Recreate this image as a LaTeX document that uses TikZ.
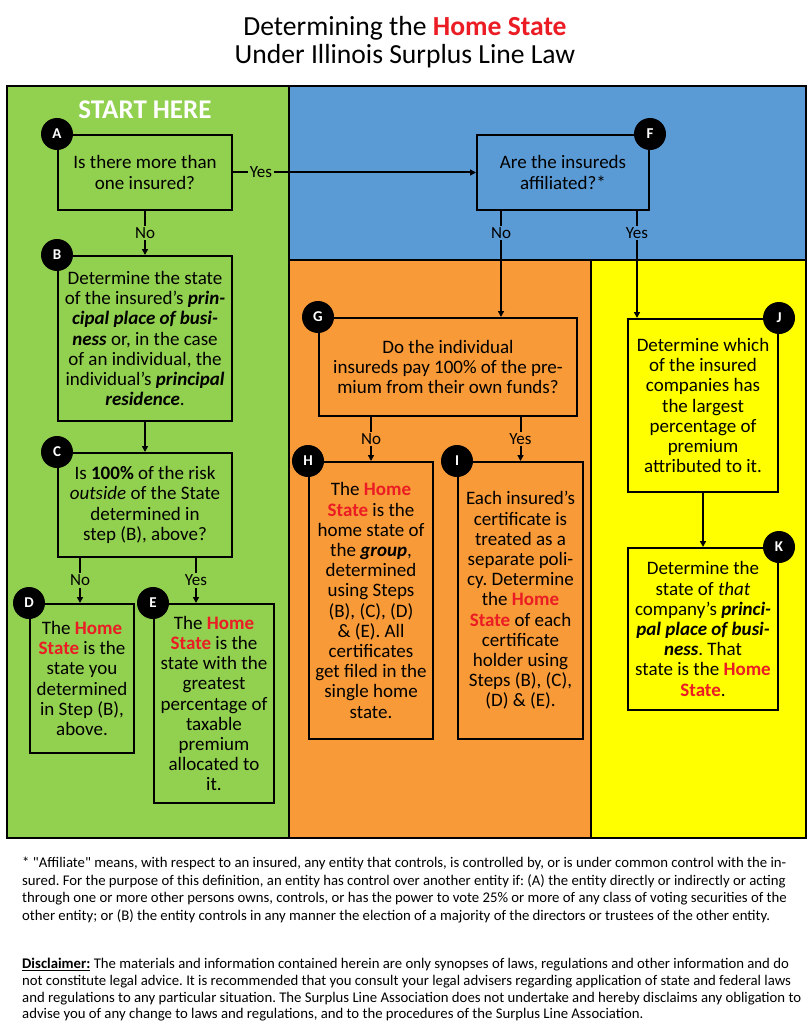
\documentclass[tikz,border=0pt]{standalone}
\usepackage{fontspec}
\setmainfont{Carlito}
\newfontfamily\footfont{Carlito}
\usetikzlibrary{arrows.meta,calc}
\definecolor{pgreen}{RGB}{146,208,80}
\definecolor{pblue}{RGB}{91,155,213}
\definecolor{porange}{RGB}{248,154,56}
\definecolor{pyellow}{RGB}{255,255,0}
\definecolor{hred}{RGB}{235,28,36}
\newcommand{\redbf}[1]{\textcolor{hred}{\textbf{#1}}}
\newcommand{\bi}[1]{\textbf{\textit{#1}}}
\frenchspacing
\begin{document}
\begin{tikzpicture}[x=1pt,y=-1pt,
  panel/.style={draw=black,line width=2pt},
  box/.style={draw=black,line width=2pt,inner sep=0pt,align=center,
    font=\fontsize{19}{20.2}\selectfont},
  badge/.style={circle,fill=black,text=white,minimum size=32pt,inner sep=0pt,
    font=\bfseries\fontsize{15}{15}\selectfont},
  lbl/.style={font=\fontsize{17}{17}\selectfont,inner sep=1.5pt},
  arr/.style={line width=2pt,-{Triangle[length=6pt,width=6pt]}},
  ln/.style={line width=2pt}]
\useasboundingbox (0,0) rectangle (810,1024);
\fill[white] (0,0) rectangle (810,1024);
% panels
\draw[panel,fill=pgreen] (7,86) rectangle (289,838);
\draw[panel,fill=pblue] (289,86) rectangle (806,260);
\draw[panel,fill=porange] (289,260) rectangle (591,838);
\draw[panel,fill=pyellow] (591,260) rectangle (806,838);
% title
\node[align=center,font=\fontsize{27.6}{28}\selectfont] (title) at (405,42)
  {Determining the \redbf{Home State}\\Under Illinois Surplus Line Law};
\node[text=white,font=\bfseries\fontsize{27}{27}\selectfont] (start) at (145,110) {START HERE};
% boxes
\node[box,minimum width=174pt,minimum height=75pt] (A) at (145,172.5)
  {Is there more than\\one insured?};
\node[box,minimum width=174pt,minimum height=165pt] (B) at (145,338.5)
  {Determine the state\\of the insured’s \bi{prin-}\\\bi{cipal place of busi-}\\\bi{ness} or, in the case\\of an individual, the\\individual’s \bi{principal}\\\bi{residence}.};
\node[box,minimum width=174pt,minimum height=104pt] (C) at (145,505)
  {Is \textbf{100\%} of the risk\\\textit{outside} of the State\\determined in\\step (B), above?};
\node[box,minimum width=104pt,minimum height=149pt] (D) at (82,678.5)
  {The \redbf{Home}\\\redbf{State} is the\\state you\\determined\\in Step (B),\\above.};
\node[box,minimum width=120pt,minimum height=199pt] (E) at (214,703.5)
  {The \redbf{Home}\\\redbf{State} is the\\state with the\\greatest\\percentage of\\taxable\\premium\\allocated to\\it.};
\node[box,minimum width=172pt,minimum height=75pt] (F) at (563,172.5)
  {Are the insureds\\affiliated?*};
\node[box,minimum width=258pt,minimum height=98pt] (G) at (448,367)
  {Do the individual\\insureds pay 100\% of the pre-\\mium from their own funds?};
\node[box,minimum width=124pt,minimum height=277pt] (H) at (371,600.5)
  {The \redbf{Home}\\\redbf{State} is the\\home state of\\the \bi{group},\\determined\\using Steps\\(B), (C), (D)\\\& (E). All\\certificates\\get filed in the\\single home\\state.};
\node[box,minimum width=125pt,minimum height=277pt] (I) at (520.5,600.5)
  {Each insured’s\\certificate is\\treated as a\\separate poli-\\cy. Determine\\the \redbf{Home}\\\redbf{State} of each\\certificate\\holder using\\Steps (B), (C),\\(D) \& (E).};
\node[box,minimum width=150pt,minimum height=173pt] (J) at (703,405.5)
  {Determine which\\of the insured\\companies has\\the largest\\percentage of\\premium\\attributed to it.};
\node[box,minimum width=150pt,minimum height=162pt] (K) at (703,629)
  {Determine the\\state of \textit{that}\\company’s \bi{princi-}\\\bi{pal place of busi-}\\\bi{ness}. That\\state is the \redbf{Home}\\\redbf{State}.};
% badges
\node[badge] (bA) at (A.north west) {A};
\node[badge] (bB) at (B.north west) {B};
\node[badge] (bC) at (C.north west) {C};
\node[badge] (bD) at (D.north west) {D};
\node[badge] (bE) at (E.north west) {E};
\node[badge] (bF) at (F.north east) {F};
\node[badge] (bG) at (G.north west) {G};
\node[badge] (bH) at (H.north west) {H};
\node[badge] (bI) at (I.north west) {I};
\node[badge] (bJ) at (J.north east) {J};
\node[badge] (bK) at (K.north east) {K};
% connectors
\draw[arr] (A.east) -- node[lbl,fill=pgreen,pos=0.115] {Yes} (F.west);
\draw[arr] (A.south) -- node[lbl,fill=pgreen] {No} (B.north);
\draw[arr] (B.south) -- (C.north);
\coordinate (cno) at ([xshift=-65pt]C.south);
\coordinate (cyes) at ([xshift=51pt]C.south);
\draw[arr] (cno) -- node[lbl,fill=pgreen] {No} (cno |- D.north);
\draw[arr] (cyes) -- node[lbl,fill=pgreen] {Yes} (cyes |- E.north);
\coordinate (fno) at ([xshift=-62pt]F.south);
\coordinate (fyes) at ([xshift=74pt]F.south);
\draw[arr] (fno) -- node[lbl,fill=pblue,pos=0.21] {No} (fno |- G.north);
\draw[arr] (fyes) -- node[lbl,fill=pblue,pos=0.21] {Yes} (fyes |- J.north);
\draw[arr] (G.south -| H.north) -- node[lbl,fill=porange] {No} (H.north);
\draw[arr] (G.south -| I.north) -- node[lbl,fill=porange] {Yes} (I.north);
\draw[arr] (J.south) -- (K.north);
% footer
\node[anchor=north west,align=left,inner sep=0pt,font=\footfont\fontsize{14.75}{17.6}\selectfont] (fn) at (22,857)
  {* "Affiliate" means, with respect to an insured, any entity that controls, is controlled by, or is under common control with the in-\\
   sured. For the purpose of this definition, an entity has control over another entity if: (A) the entity directly or indirectly or acting\\
   through one or more other persons owns, controls, or has the power to vote 25\% or more of any class of voting securities of the\\
   other entity; or (B) the entity controls in any manner the election of a majority of the directors or trustees of the other entity.};
\node[anchor=north west,align=left,inner sep=0pt,font=\footfont\fontsize{14.75}{16.8}\selectfont] (disc) at (22,958)
  {\underline{\textbf{Disclaimer:}} The materials and information contained herein are only synopses of laws, regulations and other information and do\\
   not constitute legal advice. It is recommended that you consult your legal advisers regarding application of state and federal laws\\
   and regulations to any particular situation. The Surplus Line Association does not undertake and hereby disclaims any obligation to\\
   advise you of any change to laws and regulations, and to the procedures of the Surplus Line Association.};
\end{tikzpicture}
\end{document}
